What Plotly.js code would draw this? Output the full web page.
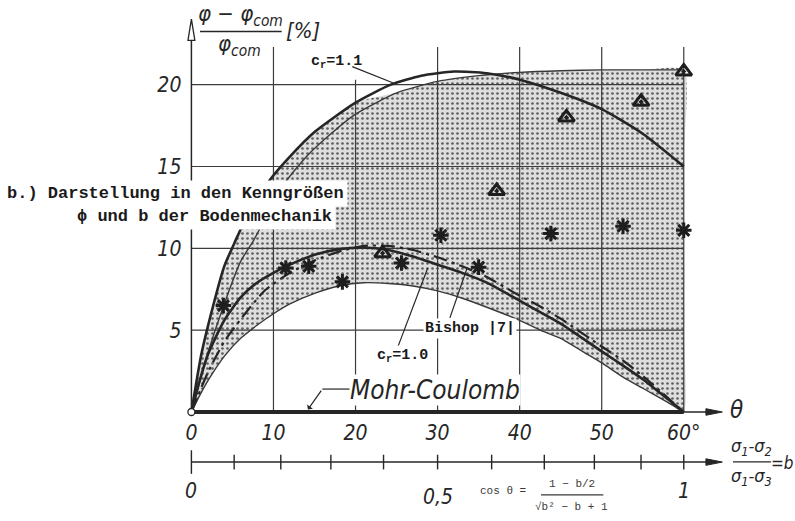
<!DOCTYPE html>
<html>
<head>
<meta charset="utf-8">
<script src="https://cdn.plot.ly/plotly-3.0.1.min.js"></script>
<style>html,body{margin:0;padding:0;background:#fff}</style>
</head>
<body>
<div id="chart" style="width:795px;height:521px"></div>
<script>
// Lode angle θ [deg] on the abscissa, relative deviation (φ − φcom)/φcom [%] on the ordinate
const thetaGrid = [0, 10, 20, 30, 40, 50, 60];
const thetaTickText = ['0', '10', '20', '30', '40', '50', '60°'];
const devGrid = [5, 10, 15, 20];
const devTickText = ['5', '10', '15', '20'];

// c_r = 1.1 (thick curve)
const cr11Theta = [0, 1.2, 2.6, 4, 5.4, 7, 9.6, 12, 15, 20, 24.3, 28, 32, 36, 40, 45, 50, 55, 60];
const cr11Dev   = [0, 3.5, 6.4, 8.9, 10.5, 12.2, 14.2, 15.6, 17.1, 18.9, 20.0, 20.55, 20.8, 20.7, 20.3, 19.5, 18.5, 17.0, 15.0];

// upper envelope of the scatter band (thin)
const upperTheta = [0, 2, 4, 6, 7.6, 9.5, 11.4, 14, 17, 20, 25, 30, 35, 40, 45, 50, 55, 60];
const upperDev   = [0, 3.6, 6.6, 9.2, 10.5, 12.3, 14.0, 15.6, 17.0, 18.2, 19.5, 20.2, 20.55, 20.75, 20.85, 20.9, 20.9, 20.9];

// c_r = 1.0 (thick curve)
const cr10Theta = [0, 1, 2, 4, 6, 8, 10, 12, 15, 18, 21, 24, 27, 30, 33, 36, 40, 42.5, 45, 50, 52.7, 55, 60];
const cr10Dev   = [0, 1.9, 3.5, 5.6, 7.0, 7.9, 8.5, 9.0, 9.6, 9.95, 10.05, 9.9, 9.5, 9.0, 8.5, 7.9, 6.8, 6.1, 5.4, 3.7, 2.8, 2.0, 0];

// Bishop [7] (dash-dot)
const bishopTheta = [0, 2, 4, 6.6, 9, 12, 15, 18, 21, 24, 27, 30, 33, 36, 40, 42.5, 45, 50, 52.7, 55, 60];
const bishopDev   = [0, 2.4, 4.3, 6.05, 7.45, 8.5, 9.25, 9.8, 10.15, 10.15, 9.9, 9.45, 8.9, 8.25, 7.1, 6.45, 5.7, 4.0, 3.1, 2.2, 0];

// lower envelope of the scatter band (thin)
const lowerTheta = [0, 1, 2, 4, 6, 8, 10, 12, 15, 18, 21, 24, 27, 30, 33, 36, 40, 42.5, 45, 48, 50, 52.7, 55, 58, 60];
const lowerDev   = [0, 1.0, 1.9, 3.4, 4.5, 5.3, 6.0, 6.6, 7.25, 7.7, 7.9, 7.85, 7.7, 7.4, 6.95, 6.4, 5.6, 5.0, 4.5, 3.6, 3.0, 2.1, 1.45, 0.6, 0];

// test results
const starTheta = [3.9, 11.5, 14.3, 18.4, 25.6, 30.4, 35, 43.8, 52.6, 60];
const starDev   = [6.5, 8.8, 8.9, 7.95, 9.1, 10.8, 8.85, 10.9, 11.35, 11.1];
const triTheta  = [23.3, 37.2, 45.7, 54.8, 60];
const triDev    = [9.7, 13.5, 18.0, 18.95, 20.8];

// Mohr-Coulomb reference
const mcTheta = [0, 60];
const mcDev   = [0, 0];

// second scale: b = (σ1 − σ2)/(σ1 − σ3)
const bTicks = [0, 0.1, 0.2, 0.3, 0.4, 0.5, 0.6, 0.7, 0.8, 0.9, 1.0];
const bLabelValues = [0, 0.5, 1];
const bLabelText = ['0', '0,5', '1'];

// cos θ = (1 − b/2) / sqrt(b² − b + 1)
function thetaOfB(b) {
  return Math.acos((1 - b / 2) / Math.sqrt(b * b - b + 1)) * 180 / Math.PI;
}

const INK = '#262626';
const HAND = '"Liberation Sans Narrow", "DejaVu Sans Condensed", "Liberation Sans", sans-serif';
const TYPE = '"Liberation Mono", "DejaVu Sans Mono", monospace';

const X_END = 64.7;      // arrow tip of the θ axis
const Y_END = 24.0;      // arrow tip of the ordinate
const GRID_TOP = 22.3;
const B_LEVEL = -3.06;   // height of the b scale
const B_TICK = 0.45;

// shaded band: upper edge follows c_r=1.1 on the left, the thin envelope on the right,
// closed by a straight edge at θ = 60° and the lower envelope
const bandX = [], bandY = [];
cr11Theta.forEach((t, i) => { if (t <= 20) { bandX.push(t); bandY.push(cr11Dev[i]); } });
upperTheta.forEach((t, i) => { if (t >= 25) { bandX.push(t); bandY.push(upperDev[i]); } });
const rightTop = upperDev[upperDev.length - 1];
[0.75, 0.5, 0.25].forEach(f => { bandX.push(60); bandY.push(rightTop * f); });
for (let i = lowerTheta.length - 1; i >= 0; i--) { bandX.push(lowerTheta[i]); bandY.push(lowerDev[i]); }

// grid
const gridX = [], gridY = [];
thetaGrid.slice(1).forEach(t => { gridX.push(t, t, null); gridY.push(0, t === 20 ? 20.3 : GRID_TOP, null); });
devGrid.forEach(v => { gridX.push(0, 60, null); gridY.push(v, v, null); });

// b scale ticks
const bTickX = [], bTickY = [];
bTicks.forEach(b => {
  const t = thetaOfB(b);
  const h = b === 0 ? B_TICK * 1.6 : B_TICK;
  bTickX.push(t, t, null); bTickY.push(B_LEVEL - h, B_LEVEL + h, null);
});

const line = (x, y, w, extra) => Object.assign({
  x, y, type: 'scatter', mode: 'lines', hoverinfo: 'skip', cliponaxis: false,
  line: { color: INK, width: w }
}, extra || {});

const traces = [
  {
    x: bandX, y: bandY, type: 'scatter', mode: 'none', fill: 'toself',
    line: { shape: 'spline', smoothing: 0.6 }, hoverinfo: 'skip',
    fillcolor: '#d4d4d4',
    fillpattern: { shape: '.', bgcolor: '#dedede', fgcolor: '#5e5e5e', size: 5, solidity: 0.22 }
  },
  line(gridX, gridY, 1.2, { line: { color: '#3c3c3c', width: 1.2 } }),
  line([0, 0], [0, Y_END - 1.0], 1.5),
  line([0, X_END - 1.5], [0, 0], 1.5),
  line(mcTheta, mcDev, 4),
  line(lowerTheta, lowerDev, 1.4, { line: { color: '#3a3a3a', width: 1.4, shape: 'spline', smoothing: 0.6 } }),
  line(upperTheta, upperDev, 1.4, { line: { color: '#3a3a3a', width: 1.4, shape: 'spline', smoothing: 0.6 } }),
  line(bishopTheta, bishopDev, 2.2, { line: { color: INK, width: 2.2, dash: '14px,5px,3px,5px', shape: 'spline', smoothing: 0.6 } }),
  line(cr10Theta, cr10Dev, 2.6, { line: { color: INK, width: 2.6, shape: 'spline', smoothing: 0.6 } }),
  line(cr11Theta, cr11Dev, 2.6, { line: { color: INK, width: 2.6, shape: 'spline', smoothing: 0.6 } }),
  {
    x: starTheta, y: starDev, type: 'scatter', mode: 'markers', hoverinfo: 'skip', cliponaxis: false,
    marker: { symbol: 'asterisk-open', size: 13, color: '#1e1e1e', line: { color: '#1e1e1e', width: 3 } }
  },
  {
    x: triTheta, y: triDev, type: 'scatter', mode: 'markers', hoverinfo: 'skip', cliponaxis: false,
    marker: { symbol: 'triangle-up-open-dot', size: 14, color: '#1e1e1e', line: { color: '#1e1e1e', width: 3 } }
  },
  {
    x: [0], y: [0], type: 'scatter', mode: 'markers', hoverinfo: 'skip', cliponaxis: false,
    marker: { symbol: 'circle', size: 7, color: '#fff', line: { color: INK, width: 1.3 } }
  },
  // b scale
  line([0, X_END - 1.5], [B_LEVEL, B_LEVEL], 1.5),
  line(bTickX, bTickY, 1.4),
  // arrowheads
  line([X_END, X_END - 2.0, X_END - 2.0, X_END], [0, 0.2, -0.2, 0], 1, { fill: 'toself', fillcolor: INK }),
  line([X_END, X_END - 2.0, X_END - 2.0, X_END], [B_LEVEL, B_LEVEL + 0.2, B_LEVEL - 0.2, B_LEVEL], 1, { fill: 'toself', fillcolor: INK }),
  line([0, -0.42, 0.42, 0], [Y_END, Y_END - 1.3, Y_END - 1.3, Y_END], 1.3, { fill: 'toself', fillcolor: '#fff' }),
  // leaders
  line([19.6, 24.6], [21.1, 20.1], 1.2),
  line([25.1, 28.8], [3.9, 8.8], 1.2),
  line([31.5, 33.6], [5.75, 8.8], 1.2),
  line([19.6, 15.95], [1.4, 1.4], 1.2)
];

const ann = (x, y, text, font, extra) => Object.assign({
  x, y, xref: 'x', yref: 'y', text, showarrow: false, font
}, extra || {});
// text placed in the margins, relative to the plotting area
const pann = (x, y, text, font, extra) => Object.assign({
  x, y, xref: 'paper', yref: 'paper', xanchor: 'center', yanchor: 'middle', text, showarrow: false, font
}, extra || {});

const handFont = s => ({ family: HAND, size: s, color: INK, style: 'italic' });
const typeFont = s => ({ family: TYPE, size: s, color: '#1a1a1a', weight: 'bold' });

const annotations = [
  ann(17.7, 21.4, 'c<sub>r</sub>=1.1', typeFont(15)),
  ann(25.7, 3.4, 'c<sub>r</sub>=1.0', typeFont(15), { bgcolor: '#fff' }),
  ann(34.0, 5.1, 'Bishop |7|', typeFont(15), { bgcolor: '#fff' }),
  ann(29.7, 1.35, 'Mohr-Coulomb', handFont(26), { bgcolor: '#fff', borderpad: 0 }),
  pann(-0.308, 0.6405, 'b.) Darstellung in den Kenngrößen', typeFont(17), { xanchor: 'left', bgcolor: '#fff', borderpad: 3 }),
  pann(-0.183, 0.5972, 'ϕ und b der Bodenmechanik', typeFont(17), { xanchor: 'left', bgcolor: '#fff', borderpad: 3 }),
  // ordinate title
  ann(6.0, 24.2, 'φ − φ<sub>com</sub>', handFont(22)),
  ann(5.8, 22.4, 'φ<sub>com</sub>', handFont(22)),
  ann(13.6, 23.3, '[%]', handFont(22)),
  // abscissa titles
  pann(1.0054, 0.2161, 'θ', handFont(24)),
  pann(1.034, 0.1434, 'σ<sub>1</sub>-σ<sub>2</sub>', handFont(18)),
  pann(1.034, 0.0845, 'σ<sub>1</sub>-σ<sub>3</sub>', handFont(18)),
  pann(1.088, 0.112, '=b', handFont(17)),
  // relation between θ and b
  ann(38.0, -4.85, 'cos θ =', { family: TYPE, size: 11, color: '#3a3a3a' }),
  ann(46.4, -4.4, '1 − b/2', { family: TYPE, size: 11, color: '#3a3a3a' }),
  ann(46.3, -5.8, '√b² − b + 1', { family: TYPE, size: 11, color: '#3a3a3a' }),
  // arrow of the Mohr-Coulomb leader
  { x: 14.2, y: 0.15, ax: 15.95, ay: 1.4, xref: 'x', yref: 'y', axref: 'x', ayref: 'y', text: '',
    showarrow: true, arrowhead: 1, arrowsize: 1, arrowwidth: 1.2, arrowcolor: INK }
];
bLabelValues.forEach((b, i) => {
  annotations.push(ann(thetaOfB(b), b === 0.5 ? -5.2 : -4.8, bLabelText[i], handFont(21)));
});

const shapes = [
  { type: 'line', xref: 'x', yref: 'y', x0: 1.05, x1: 11.0, y0: 23.25, y1: 23.25, line: { color: INK, width: 1.4 } },
  { type: 'line', xref: 'paper', yref: 'paper', x0: 1.0, x1: 1.068, y0: 0.114, y1: 0.114, line: { color: INK, width: 1.3 } },
  { type: 'line', xref: 'x', yref: 'y', x0: 42.6, x1: 50.2, y0: -5.07, y1: -5.07, line: { color: '#3a3a3a', width: 1.2 } }
];

const layout = {
  width: 795, height: 521,
  margin: { l: 175, r: 62, t: 11, b: 1 },
  paper_bgcolor: '#fff', plot_bgcolor: '#fff',
  showlegend: false,
  xaxis: {
    range: [-2, 66], showgrid: false, zeroline: false, showline: false,
    anchor: 'free', position: 6.6 / 31.1,
    tickmode: 'array', tickvals: thetaGrid, ticktext: thetaTickText, ticks: '',
    tickfont: handFont(21), ticklabelstandoff: 6
  },
  yaxis: {
    range: [-6.6, 24.5], showgrid: false, zeroline: false, showline: false,
    anchor: 'free', position: 2 / 68,
    tickmode: 'array', tickvals: devGrid, ticktext: devTickText, ticks: '',
    tickfont: handFont(21), ticklabelstandoff: 10
  },
  annotations, shapes
};

Plotly.newPlot('chart', traces, layout, { displayModeBar: false, staticPlot: true });
</script>
</body>
</html>
